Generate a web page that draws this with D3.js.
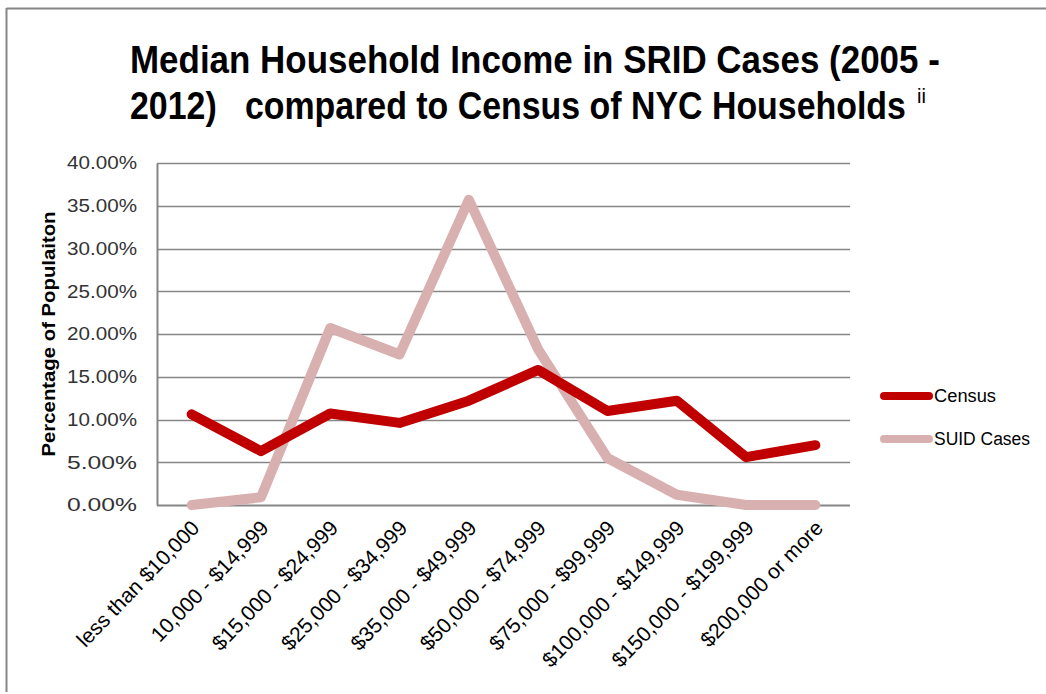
<!DOCTYPE html>
<html>
<head>
<meta charset="utf-8">
<script src="https://cdn.jsdelivr.net/npm/d3@7"></script>
<style>
  html, body { margin: 0; padding: 0; background: #fff; }
  svg { display: block; }
  text { font-family: "Liberation Sans Narrow", "Liberation Sans", Arial, sans-serif; }
</style>
</head>
<body>
<script>
const categories = ["less than $10,000", "10,000 - $14,999", "$15,000 - $24,999", "$25,000 - $34,999",
  "$35,000 - $49,999", "$50,000 - $74,999", "$75,000 - $99,999", "$100,000 - $149,999",
  "$150,000 - $199,999", "$200,000 or more"];
const census = [10.6, 6.3, 10.7, 9.6, 12.2, 15.8, 11.0, 12.2, 5.6, 7.0];
const suid = [0.0, 0.9, 20.7, 17.6, 35.7, 18.2, 5.5, 1.2, 0.0, 0.0];
const yTicks = [0, 5, 10, 15, 20, 25, 30, 35, 40];
const seriesNames = ["Census", "SUID Cases"];
const seriesColors = ["#C00000", "#D9B0B0"];
const titleLines = ["Median Household Income in SRID Cases (2005 -", "2012)   compared to Census of NYC Households"];
const titleNote = "ii";
const yTitle = "Percentage of Populaiton";

const W = 1046, H = 694;
const svg = d3.select("body").append("svg").attr("width", W).attr("height", H);

// outer frame (top and left only visible)
svg.append("line").attr("x1", 6.5).attr("x2", W).attr("y1", 8.5).attr("y2", 8.5)
  .attr("stroke", "#868686").attr("stroke-width", 2);
svg.append("line").attr("x1", 6.5).attr("x2", 6.5).attr("y1", 8).attr("y2", 692)
  .attr("stroke", "#868686").attr("stroke-width", 2);

// title: fit each line horizontally with a scale transform
function fitText(sel, tx, ty, targetW) {
  const w = sel.node().getComputedTextLength();
  sel.attr("transform", `translate(${tx},${ty}) scale(${targetW / w},1)`);
}
const t1 = svg.append("text").attr("x", 0).attr("y", 0).text(titleLines[0])
  .attr("font-size", 38).attr("font-weight", "bold").attr("fill", "#000");
fitText(t1, 130, 73, 810);
const t2 = svg.append("text").attr("x", 0).attr("y", 0).text(titleLines[1])
  .attr("font-size", 38).attr("font-weight", "bold").attr("fill", "#000")
  .style("white-space", "pre").attr("xml:space", "preserve");
fitText(t2, 130, 119, 776);
svg.append("text").attr("x", 917).attr("y", 103).text(titleNote)
  .attr("font-size", 20).attr("fill", "#000");

const plotLeft = 157, plotRight = 850, plotTop = 163, plotBottom = 505;
const x = d3.scaleBand().domain(categories).range([plotLeft, plotRight]);
const y = d3.scaleLinear().domain([0, 40]).range([plotBottom, plotTop]);
const cx = d => x(d) + x.bandwidth() / 2;

// gridlines
svg.append("g").selectAll("line").data(yTicks).join("line")
  .attr("x1", plotLeft).attr("x2", plotRight)
  .attr("y1", d => Math.round(y(d)) + 0.5).attr("y2", d => Math.round(y(d)) + 0.5)
  .attr("stroke", "#868686").attr("stroke-width", d => d === 0 ? 2 : 1.3);

// y axis
const yAxis = svg.append("g").attr("transform", `translate(${plotLeft},0)`)
  .call(d3.axisLeft(y).tickValues(yTicks).tickSize(0).tickPadding(20)
    .tickFormat(d => d3.format(".2f")(d) + "%"));
yAxis.select(".domain").attr("stroke", "#868686").attr("stroke-width", 2);
yAxis.selectAll("text").attr("font-size", 18).attr("fill", "#333")
  .attr("font-family", "'Liberation Sans', Arial, sans-serif")
  .attr("textLength", 70).attr("lengthAdjust", "spacingAndGlyphs");

// y title
svg.append("text").attr("transform", `translate(55,334) rotate(-90)`)
  .attr("text-anchor", "middle").text(yTitle)
  .attr("font-size", 18).attr("font-weight", "bold").attr("fill", "#000")
  .attr("textLength", 245).attr("lengthAdjust", "spacingAndGlyphs");

// x axis labels
const xAxis = svg.append("g").attr("transform", `translate(0,${plotBottom})`)
  .call(d3.axisBottom(x).tickSize(0).tickPadding(0));
xAxis.select(".domain").remove();
xAxis.selectAll("text")
  .attr("font-size", 21).attr("fill", "#000")
  .attr("font-family", "'Liberation Sans', Arial, sans-serif")
  .attr("text-anchor", "end")
  .attr("dy", null).attr("y", 0)
  .attr("transform", "translate(9,24) rotate(-46)");

// lines
const line = d3.line().x((d, i) => cx(categories[i])).y(d => y(d));
[suid, census].forEach((vals, k) => {
  const idx = k === 0 ? 1 : 0;
  svg.append("path").datum(vals).attr("d", line)
    .attr("fill", "none").attr("stroke", seriesColors[idx]).attr("stroke-width", 10)
    .attr("stroke-linejoin", "round").attr("stroke-linecap", "round");
});

// legend
const leg = svg.append("g");
[396, 439].forEach((ly, i) => {
  leg.append("line").attr("x1", 884).attr("x2", 929).attr("y1", ly).attr("y2", ly)
    .attr("stroke", seriesColors[i]).attr("stroke-width", 8).attr("stroke-linecap", "round");
  leg.append("text").attr("x", 934).attr("y", ly + 6).text(seriesNames[i])
    .attr("font-size", 18).attr("fill", "#000")
    .attr("font-family", "'Liberation Sans', Arial, sans-serif")
    .attr("textLength", i === 0 ? 62 : 96).attr("lengthAdjust", "spacingAndGlyphs");
});
</script>
</body>
</html>
